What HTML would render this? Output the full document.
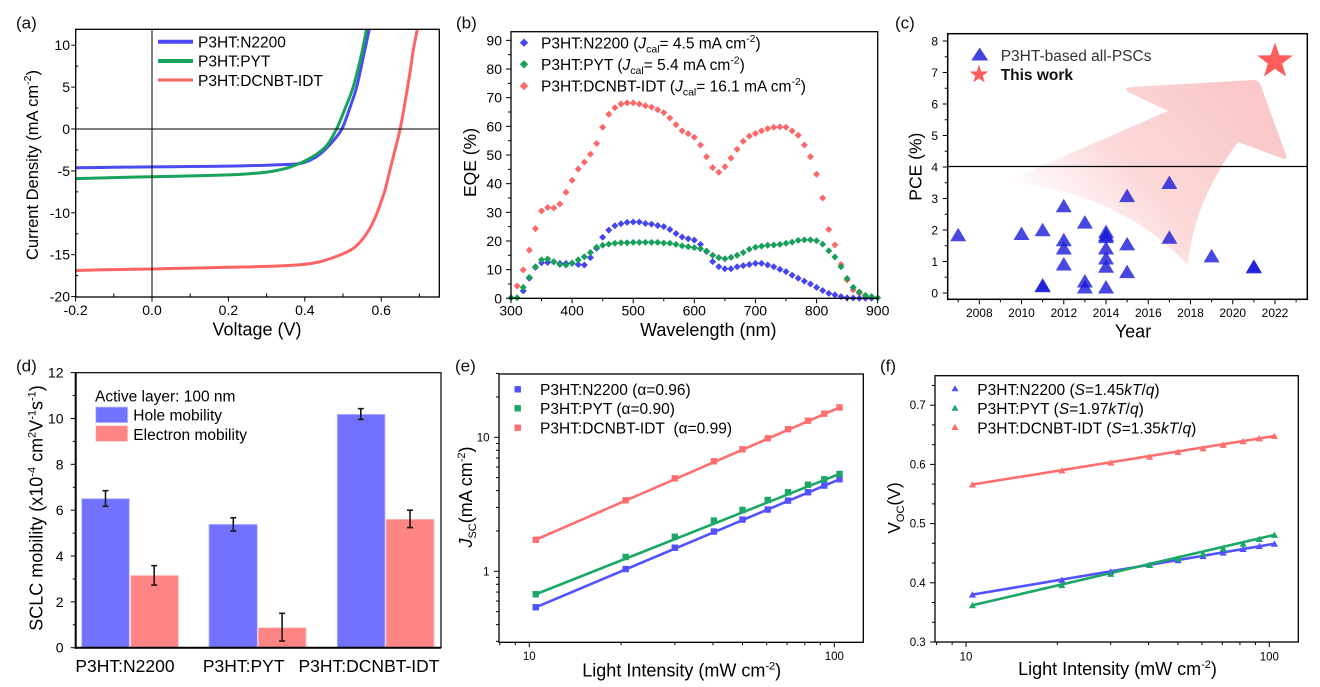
<!DOCTYPE html>
<html><head><meta charset="utf-8">
<style>
html,body{margin:0;padding:0;background:#fff;}
svg{display:block;font-family:"Liberation Sans",Arial,sans-serif;}
</style></head><body>
<svg id="s" xmlns="http://www.w3.org/2000/svg" width="1320" height="687" viewBox="0 0 1320 687">
<defs>
<clipPath id="ca"><rect x="75.7" y="29.3" width="363.6" height="267.7"/></clipPath>
<linearGradient id="ag" gradientUnits="userSpaceOnUse" x1="1060" y1="250" x2="1235" y2="95">
<stop offset="0" stop-color="#fcd6d6" stop-opacity="0"/>
<stop offset="0.45" stop-color="#fbd0d0" stop-opacity="0.8"/>
<stop offset="1" stop-color="#fac8c8" stop-opacity="1"/>
</linearGradient>
</defs>
<rect width="1320" height="687" fill="#fff"/>
<path d="M1005,182 L1168,111 L1130,93 Q1121,88 1132,87 L1253,80 Q1259,80 1261,86 L1286,155 Q1288,161 1281,158 L1238,142 C1210,180 1192,220 1188,265 C1140,215 1080,188 1005,182 Z" fill="url(#ag)"/>
<g id="g"></g>

<!-- panel labels -->
<g font-size="17" fill="#111">
<text x="16" y="28.3">(a)</text>
<text x="456" y="28.3">(b)</text>
<text x="895" y="28.3">(c)</text>
<text x="16" y="371.5">(d)</text>
<text x="455" y="371.5">(e)</text>
<text x="880" y="371.5">(f)</text>
</g>

<!-- (a) -->
<g font-size="14" text-anchor="end">
<text x="70" y="50.2">10</text><text x="70" y="92.1">5</text><text x="70" y="134">0</text>
<text x="70" y="175.9">-5</text><text x="70" y="217.8">-10</text><text x="70" y="259.7">-15</text><text x="70" y="301.6">-20</text>
</g>
<g font-size="14" text-anchor="middle">
<text x="75.6" y="315">-0.2</text><text x="152" y="315">0.0</text><text x="228.4" y="315">0.2</text><text x="304.8" y="315">0.4</text><text x="381.2" y="315">0.6</text>
</g>
<text x="257" y="335.5" font-size="18" text-anchor="middle">Voltage (V)</text>
<text transform="translate(38,165) rotate(-90)" text-anchor="middle" font-size="16.5">Current Density (mA cm<tspan dy="-7" font-size="10.5">-2</tspan><tspan dy="7">)</tspan></text>
<line x1="158" y1="41.7" x2="193" y2="41.7" stroke="#4b4bf3" stroke-width="4"/>
<line x1="158" y1="61" x2="193" y2="61" stroke="#17a35c" stroke-width="4"/>
<line x1="158" y1="80" x2="193" y2="80" stroke="#fd6464" stroke-width="3"/>
<g font-size="15.5">
<text x="198" y="47.5">P3HT:N2200</text>
<text x="198" y="66.7">P3HT:PYT</text>
<text x="198" y="86">P3HT:DCNBT-IDT</text>
</g>

<!-- (b) -->
<g font-size="14" text-anchor="end">
<text x="502" y="303.3">0</text><text x="502" y="274.6">10</text><text x="502" y="246">20</text><text x="502" y="217.3">30</text><text x="502" y="188.7">40</text>
<text x="502" y="160">50</text><text x="502" y="131.3">60</text><text x="502" y="102.7">70</text><text x="502" y="74">80</text><text x="502" y="45.4">90</text>
</g>
<g font-size="14" text-anchor="middle">
<text x="511" y="315.7">300</text><text x="572.1" y="315.7">400</text><text x="633.2" y="315.7">500</text><text x="694.3" y="315.7">600</text>
<text x="755.4" y="315.7">700</text><text x="816.6" y="315.7">800</text><text x="877.7" y="315.7">900</text>
</g>
<text x="708.3" y="336" font-size="18" text-anchor="middle">Wavelength (nm)</text>
<text transform="translate(476,162.5) rotate(-90)" text-anchor="middle" font-size="17.5">EQE (%)</text>
<polygon points="524,38.5 528.2,42.7 524,46.9 519.8,42.7" fill="#4646ee"/>
<polygon points="524,60.1 528.2,64.3 524,68.5 519.8,64.3" fill="#18a05a"/>
<polygon points="524,81.8 528.2,86 524,90.2 519.8,86" fill="#fb6868"/>
<g font-size="15.5">
<text x="541" y="48.3">P3HT:N2200 (<tspan font-style="italic">J</tspan><tspan dy="4" font-size="10.5">cal</tspan><tspan dy="-4">= 4.5 mA cm</tspan><tspan dy="-6.5" font-size="10.5">-2</tspan><tspan dy="6.5">)</tspan></text>
<text x="541" y="70">P3HT:PYT (<tspan font-style="italic">J</tspan><tspan dy="4" font-size="10.5">cal</tspan><tspan dy="-4">= 5.4 mA cm</tspan><tspan dy="-6.5" font-size="10.5">-2</tspan><tspan dy="6.5">)</tspan></text>
<text x="541" y="91.7">P3HT:DCNBT-IDT (<tspan font-style="italic">J</tspan><tspan dy="4" font-size="10.5">cal</tspan><tspan dy="-4">= 16.1 mA cm</tspan><tspan dy="-6.5" font-size="10.5">-2</tspan><tspan dy="6.5">)</tspan></text>
</g>

<!-- (c) -->
<g font-size="12" text-anchor="end">
<text x="938" y="297.3">0</text><text x="938" y="265.8">1</text><text x="938" y="234.3">2</text><text x="938" y="202.8">3</text><text x="938" y="171.3">4</text>
<text x="938" y="139.8">5</text><text x="938" y="108.3">6</text><text x="938" y="76.8">7</text><text x="938" y="45.3">8</text>
</g>
<g font-size="12" text-anchor="middle">
<text x="979.3" y="317">2008</text><text x="1021.5" y="317">2010</text><text x="1063.8" y="317">2012</text><text x="1106" y="317">2014</text>
<text x="1148.3" y="317">2016</text><text x="1190.5" y="317">2018</text><text x="1232.7" y="317">2020</text><text x="1275" y="317">2022</text>
</g>
<text x="1133" y="337.5" font-size="18" text-anchor="middle">Year</text>
<text transform="translate(921.5,166.7) rotate(-90)" text-anchor="middle" font-size="17.5">PCE (%)</text>
<polygon points="971.2,60.5 988.2,60.5 979.7,47.5" fill="#1a1ad8" fill-opacity="0.82"/>
<text x="1000.7" y="61" font-size="15.5" fill="#333">P3HT-based all-PSCs</text>
<text x="1000.7" y="80" font-size="15.5" font-weight="bold" fill="#111">This work</text>

<!-- (d) -->
<g font-size="14" text-anchor="end">
<text x="63.5" y="652.7">0</text><text x="63.5" y="606.9">2</text><text x="63.5" y="561">4</text><text x="63.5" y="515.2">6</text>
<text x="63.5" y="469.3">8</text><text x="63.5" y="423.5">10</text><text x="63.5" y="377.7">12</text>
</g>
<g font-size="17.5" text-anchor="middle">
<text x="125" y="672">P3HT:N2200</text><text x="243.7" y="672">P3HT:PYT</text><text x="369" y="672">P3HT:DCNBT-IDT</text>
</g>
<text transform="translate(42.5,508) rotate(-90)" text-anchor="middle" font-size="18">SCLC mobility (x10<tspan dy="-7" font-size="11">-4</tspan><tspan dy="7"> cm</tspan><tspan dy="-7" font-size="11">2</tspan><tspan dy="7">V</tspan><tspan dy="-7" font-size="11">-1</tspan><tspan dy="7">s</tspan><tspan dy="-7" font-size="11">-1</tspan><tspan dy="7">)</tspan></text>
<rect x="95.7" y="407" width="32" height="15.7" fill="#7272ff" stroke="#c8c8ff" stroke-width="0.8"/>
<rect x="95.7" y="425.7" width="32" height="15.7" fill="#ff8484" stroke="#ffd0d0" stroke-width="0.8"/>
<g font-size="15.5">
<text x="95" y="401.7">Active layer: 100 nm</text>
<text x="133.3" y="420.7">Hole mobility</text>
<text x="133.3" y="440">Electron mobility</text>
</g>

<!-- (e) -->
<g font-size="11.5" text-anchor="end">
<text x="489.5" y="441.3">10</text><text x="489.5" y="575.3">1</text>
</g>
<g font-size="11.5" text-anchor="middle">
<text x="529.3" y="660">10</text><text x="834.3" y="660">100</text>
</g>
<text x="681.7" y="676.5" font-size="18" text-anchor="middle">Light Intensity (mW cm<tspan dy="-7" font-size="11">-2</tspan><tspan dy="7">)</tspan></text>
<text transform="translate(472,497) rotate(-90)" text-anchor="middle" font-size="18"><tspan font-style="italic">J</tspan><tspan dy="4" font-size="11">SC</tspan><tspan dy="-4">(mA cm</tspan><tspan dy="-7" font-size="11">-2</tspan><tspan dy="7">)</tspan></text>
<rect x="514.5" y="386.1" width="6.4" height="6.4" fill="#5252ff"/>
<rect x="514.5" y="405.1" width="6.4" height="6.4" fill="#1ba866"/>
<rect x="514.5" y="424.5" width="6.4" height="6.4" fill="#ff6e6e"/>
<g font-size="15.5">
<text x="540" y="395">P3HT:N2200 (α=0.96)</text>
<text x="540" y="414">P3HT:PYT (α=0.90)</text>
<text x="540" y="433.3">P3HT:DCNBT-IDT&#160; (α=0.99)</text>
</g>

<!-- (f) -->
<g font-size="11.5" text-anchor="end">
<text x="925.7" y="646">0.3</text><text x="925.7" y="586.8">0.4</text><text x="925.7" y="527.6">0.5</text><text x="925.7" y="468.4">0.6</text><text x="925.7" y="409.2">0.7</text>
</g>
<g font-size="11.5" text-anchor="middle">
<text x="966" y="660.5">10</text><text x="1269.3" y="660.5">100</text>
</g>
<text x="1117.5" y="675" font-size="18" text-anchor="middle">Light Intensity (mW cm<tspan dy="-7" font-size="11">-2</tspan><tspan dy="7">)</tspan></text>
<text transform="translate(900,508) rotate(-90)" text-anchor="middle" font-size="17.5">V<tspan dy="4" font-size="11">OC</tspan><tspan dy="-4">(V)</tspan></text>
<polygon points="951.5,391.3 958.5,391.3 955,385.2" fill="#5252ff"/>
<polygon points="951.5,410.7 958.5,410.7 955,404.6" fill="#1ba866"/>
<polygon points="951.5,430 958.5,430 955,423.9" fill="#ff6e6e"/>
<g font-size="15.5">
<text x="977.3" y="395">P3HT:N2200 (<tspan font-style="italic">S</tspan>=1.45<tspan font-style="italic">kT</tspan>/<tspan font-style="italic">q</tspan>)</text>
<text x="977.3" y="414">P3HT:PYT (<tspan font-style="italic">S</tspan>=1.97<tspan font-style="italic">kT</tspan>/<tspan font-style="italic">q</tspan>)</text>
<text x="977.3" y="433.3">P3HT:DCNBT-IDT (<tspan font-style="italic">S</tspan>=1.35<tspan font-style="italic">kT</tspan>/<tspan font-style="italic">q</tspan>)</text>
</g>
</svg>
<script>
(function(){
var NS="http://www.w3.org/2000/svg";
var G=document.getElementById('g');
function E(t,a,p){var e=document.createElementNS(NS,t);for(var k in a)e.setAttribute(k,a[k]);(p||G).appendChild(e);return e;}
function L(x1,y1,x2,y2,w,c){E('line',{x1:x1,y1:y1,x2:x2,y2:y2,stroke:c||'#000','stroke-width':w||1});}
function f2(v){return v.toFixed(2);}
function cr(P){var d='M'+f2(P[0][0])+','+f2(P[0][1]);for(var i=0;i<P.length-1;i++){var p0=P[i-1]||P[i],p1=P[i],p2=P[i+1],p3=P[i+2]||P[i+1];d+=' C'+f2(p1[0]+(p2[0]-p0[0])/6)+','+f2(p1[1]+(p2[1]-p0[1])/6)+' '+f2(p2[0]-(p3[0]-p1[0])/6)+','+f2(p2[1]-(p3[1]-p1[1])/6)+' '+f2(p2[0])+','+f2(p2[1]);}return d;}
function lg(v){return Math.log(v)/Math.LN10;}
function rng(a,b,s){var r=[];for(var v=a;v<=b+1e-9;v+=s)r.push(+v.toFixed(6));return r;}
function yt(x,vals,f,len){vals.forEach(function(v){var y=f(v);L(x,y,x-len,y);});}
function xt(y,vals,f,len){vals.forEach(function(v){var x=f(v);L(x,y,x,y+len);});}
function box(x,y,w,h,sw){E('rect',{x:x,y:y,width:w,height:h,fill:'none',stroke:'#000','stroke-width':sw||1.3});}
function star(cx,cy,R,col){var p=[];for(var i=0;i<10;i++){var a=(-90+i*36)*Math.PI/180,r=i%2?R*0.4:R;p.push(f2(cx+r*Math.cos(a))+','+f2(cy+r*Math.sin(a)));}E('polygon',{points:p.join(' '),fill:col});}

/* ---------- (a) ---------- */
var ax=function(v){return 152+v*382;}, ay=function(j){return 129-j*8.38;};
var ga=E('g',{'clip-path':'url(#ca)'});
var curves=[
['#4b4bf3',[[-0.2,-4.62],[-0.1,-4.57],[0,-4.52],[0.1,-4.48],[0.2,-4.43],[0.3,-4.33],[0.35,-4.24],[0.387,-4.12],[0.415,-3.7],[0.44,-3.0],[0.47,-1.65],[0.497,0],[0.517,2.4],[0.536,5.05],[0.555,9.0],[0.569,12.0],[0.578,14.5]]],
['#17a35c',[[-0.2,-5.92],[-0.1,-5.8],[0,-5.7],[0.1,-5.6],[0.2,-5.47],[0.25,-5.35],[0.3,-5.15],[0.35,-4.7],[0.387,-4.1],[0.415,-3.45],[0.44,-2.7],[0.46,-1.8],[0.483,0],[0.505,2.4],[0.527,5.05],[0.549,9.03],[0.562,12.0],[0.57,14]]],
['#fd6464',[[-0.2,-16.88],[-0.1,-16.78],[0,-16.7],[0.1,-16.6],[0.2,-16.5],[0.3,-16.4],[0.387,-16.2],[0.44,-15.84],[0.492,-15.04],[0.527,-14.24],[0.553,-13.04],[0.575,-11.46],[0.592,-9.67],[0.61,-7.28],[0.623,-4.89],[0.636,-2.51],[0.649,-0.12],[0.662,3.07],[0.675,6.65],[0.684,9.43],[0.695,12.02],[0.702,14]]]
];
curves.forEach(function(c){E('path',{d:cr(c[1].map(function(p){return [ax(p[0]),ay(p[1])];})),fill:'none',stroke:c[0],'stroke-width':3,'stroke-linejoin':'round'},ga);});
L(152,29.3,152,297,1); L(75.7,129,439.3,129,1);
yt(75.7,rng(-20,10,5),ay,4.5);
rng(-17.5,7.5,5).forEach(function(v){L(75.7,ay(v),78.2,ay(v));});
xt(297,rng(-0.2,0.6,0.2),ax,4.5);
rng(-0.1,0.7,0.2).forEach(function(v){L(ax(v),297,ax(v),293.5);});
box(75.7,29.3,363.6,267.7);

/* ---------- (b) ---------- */
var bx=function(l){return 511+(l-300)*0.61111;}, by=function(v){return 298.3-v*2.866;};
function dia(start,vals,col){var d='';vals.forEach(function(v,i){var x=bx(start+i*10),y=by(v);d+='M'+f2(x)+','+f2(y-3.5)+'l3.5,3.5l-3.5,3.5l-3.5,-3.5z';});E('path',{d:d,fill:col});}
var red=[4.3,9.9,16.8,24.3,30.5,31.7,31.5,32.9,37.0,41.2, 45.1,47.5,50.3,54.0,59.7,64.2,66.5,67.8,68.2,68.2, 67.8,67.2,66.7,65.8,64.8,62.9,60.6,58.4,57.4,56.2, 53.5,49.4,45.6,44.0,45.9,48.9,52.0,54.8,56.6,57.5, 58.4,59.2,59.7,59.8,59.7,58.4,56.9,53.5,49.4,43.3, 35.0,24.0,18.6,11.8,6.4,2.9,1.7,0.6];
var blue=[2.6,7.0,10.8,12.4,12.5,12.7,12.2,12.2, 12.2,11.8,11.6,14.2,17.4,21.3,23.8,25.3,26.0,26.5, 26.6,26.6,26.1,25.9,25.4,25.0,24.0,22.6,21.4,20.8, 20.3,18.8,16.3,12.8,11.0,10.3,10.3,11.0,11.4,11.8, 12.2,12.2,11.6,11.0,10.1,9.3,8.1,7.0,6.0,5.0, 3.8,2.7,1.7,1.2,0.6,0.2,0.1,0,0,0];
var green=[0.2,0.2,3.8,7.3,11.0,13.4,13.7,12.8,11.8,11.6, 12.3,13.4,14.5,16.0,17.8,18.5,18.9,19.2,19.4,19.4, 19.5,19.5,19.5,19.5,19.5,19.3,19.2,18.8,18.3,18.0, 17.7,17.3,16.5,15.0,14.2,13.8,14.3,15.0,16.0,17.1, 17.8,18.2,18.5,18.6,18.8,19.2,19.6,20.2,20.4,20.4, 20.1,18.9,16.6,14.4,11.0,6.9,3.8,2.2,1.0,0.6,0.2];
dia(310,red,'#fb6868');
dia(320,blue,'#4646ee');
dia(300,green,'#18a05a');
yt(511,rng(0,90,10),by,5);
yt(511,rng(5,85,10),by,3);
xt(298.3,rng(300,900,100),bx,5);
xt(298.3,rng(350,850,100),bx,3);
box(511,31.7,366.7,266.6);

/* ---------- (c) ---------- */
var cx=function(y){return 979.3+(y-2008)*21.12;}, cy=function(p){return 293-p*31.5;};
L(947.7,166.5,1307.3,166.5,1.2);
var tri=[[2007,1.84],[2010,1.88],[2011,2.0],[2011,0.22],[2011,0.24],[2012,2.76],[2012,1.68],[2012,1.42],[2012,0.91],[2013,2.24],[2013,0.37],[2013,0.18],[2014,1.94],[2014,1.84],[2014,1.78],[2014,1.42],[2014,1.1],[2014,0.84],[2014,0.18],[2015,3.08],[2015,1.55],[2015,0.67],[2017,3.5],[2017,1.76],[2019,1.17],[2021,0.84],[2021,0.82]];
tri.forEach(function(t){var x=cx(t[0]),y=cy(t[1]);E('path',{d:'M'+f2(x-8)+','+f2(y+6.2)+'L'+f2(x+8)+','+f2(y+6.2)+'L'+f2(x)+','+f2(y-7.3)+'Z',fill:'#1a1ad8','fill-opacity':0.8});});
star(1275,61.3,18.8,'#ff5c5c');
star(979,74.5,9.8,'#ff5c5c');
yt(947.7,rng(0,8,1),cy,5);
yt(947.7,rng(0.5,7.5,1),cy,3);
xt(299.3,rng(2008,2022,2),cx,5);
xt(299.3,rng(2007,2023,2),cx,3);
box(947.7,33.7,359.6,265.6,1.5);

/* ---------- (d) ---------- */
var dY=function(m){return 647.7-m*22.92;};
var bars=[[81.7,129.3,6.5,'#7272ff'],[130.7,178.3,3.15,'#ff8484'],[209,257.3,5.38,'#7272ff'],[258.3,306,0.87,'#ff8484'],[337.3,385,10.18,'#7272ff'],[386,434,5.6,'#ff8484']];
bars.forEach(function(b){E('rect',{x:b[0],y:f2(dY(b[2])),width:f2(b[1]-b[0]),height:f2(647.7-dY(b[2])),fill:b[3],stroke:b[3]=='#7272ff'?'#b8b8ff':'#ffc0c0','stroke-width':0.8});});
var errs=[[105.5,6.17,6.85],[154.2,2.73,3.58],[233.3,5.09,5.67],[282.1,0.29,1.5],[360.8,9.96,10.43],[410,5.24,6.0]];
errs.forEach(function(e){var y1=dY(e[1]),y2=dY(e[2]);L(e[0],y1,e[0],y2,1.6,'#1a1a1a');L(e[0]-3,y1,e[0]+3,y1,1.6,'#1a1a1a');L(e[0]-3,y2,e[0]+3,y2,1.6,'#1a1a1a');});
yt(75.7,rng(0,12,2),dY,5);
yt(75.7,rng(1,11,2),dY,3);
box(75.7,372.7,365.3,275,1.2);
L(75.7,372.7,75.7,648.7,2); L(74.7,647.7,441,647.7,2);

/* ---------- (e) ---------- */
var I=[10.5,20.7,30,40.3,50,60.5,70.5,82,92.7,104];
var ex=function(v){return 529.3+lg(v/10)*305;}, ey=function(v){return 571.3-lg(v)*134;};
var eS=[['#5252ff',[0.539,1.04,1.50,1.98,2.43,2.89,3.37,3.89,4.36,4.86]],['#1ba866',[0.674,1.28,1.81,2.39,2.87,3.41,3.89,4.43,4.86,5.33]],['#ff6e6e',[1.72,3.39,4.94,6.62,8.13,9.83,11.5,13.3,15.0,16.7]]];
eS.forEach(function(s){L(ex(I[0]),ey(s[1][0]),ex(I[9]),ey(s[1][9]),2.6,s[0]);});
eS.forEach(function(s){s[1].forEach(function(v,i){E('rect',{x:f2(ex(I[i])-3.2),y:f2(ey(v)-3.2),width:6.4,height:6.4,fill:s[0]});});});
yt(499,[1,10],ey,5);
yt(499,[0.3,0.4,0.5,0.6,0.7,0.8,0.9,2,3,4,5,6,7,8,9,20,30],ey,3);
xt(642.3,[10,100],ex,5);
xt(642.3,[8,9,20,30,40,50,60,70,80,90],ex,3);
box(499,374,364.3,268.3);

/* ---------- (f) ---------- */
var fx=function(v){return 966+lg(v/10)*303.3;}, fy=function(v){return 642-(v-0.3)*592;};
var fS=[['#ff6e6e',[0.566,0.5896,0.603,0.613,0.621,0.627,0.633,0.639,0.644,0.648]],['#5252ff',[0.380,0.405,0.419,0.430,0.438,0.445,0.451,0.457,0.462,0.466]],['#1ba866',[0.362,0.396,0.415,0.430,0.441,0.449,0.458,0.466,0.474,0.481]]];
fS.forEach(function(s){L(fx(I[0]),fy(s[1][0]),fx(I[9]),fy(s[1][9]),2.6,s[0]);});
fS.forEach(function(s){s[1].forEach(function(v,i){var x=fx(I[i]),y=fy(v);E('path',{d:'M'+f2(x-3.6)+','+f2(y+3)+'L'+f2(x+3.6)+','+f2(y+3)+'L'+f2(x)+','+f2(y-3.4)+'Z',fill:s[0]});});});
yt(935,rng(0.3,0.7,0.1),fy,5);
var mv=[];for(var k=1;k<=13;k++){if(k%3)mv.push(0.3+k/30);}
yt(935,mv,fy,3);
xt(642,[10,100],fx,5);
xt(642,[8,9,20,30,40,50,60,70,80,90],fx,3);
box(935,375.7,363.3,266.3);
})();
</script>
</body></html>
